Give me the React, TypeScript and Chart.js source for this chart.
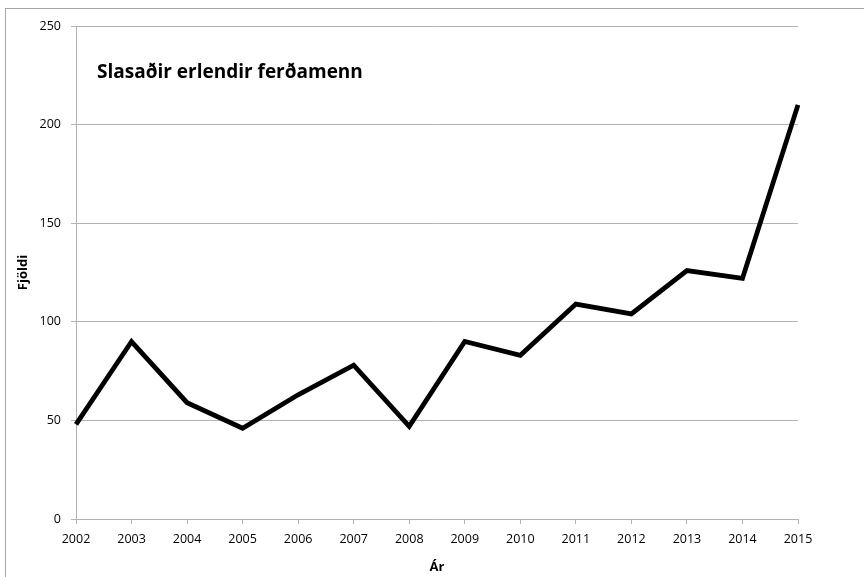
import React, { useEffect, useRef } from "react";
import { Chart, registerables } from "chart.js";

Chart.register(...registerables);

const years = ["2002", "2003", "2004", "2005", "2006", "2007", "2008", "2009", "2010", "2011", "2012", "2013", "2014", "2015"];
const injured = [48, 90, 59, 46, 63, 78, 47, 90, 83, 109, 104, 126, 122, 210];
const chartTitle = "Slasaðir erlendir ferðamenn";
const yTitle = "Fjöldi";
const xTitle = "Ár";

const FONT = "'Open Sans', sans-serif";
const GRID = "#b3b3b3";

const innerTitle = {
  id: "innerTitle",
  afterDraw(chart: any) {
    const { ctx, chartArea } = chart;
    ctx.save();
    ctx.font = `bold 19px ${FONT}`;
    ctx.fillStyle = "#000";
    ctx.textBaseline = "alphabetic";
    ctx.textAlign = "left";
    ctx.fillText(chartTitle, chartArea.left + 21, chartArea.top + 52);
    ctx.restore();
  },
};

export default function App() {
  const ref = useRef<HTMLCanvasElement>(null);
  useEffect(() => {
    if (!ref.current) return;
    const chart = new Chart(ref.current, {
      type: "line",
      data: {
        labels: years,
        datasets: [
          {
            data: injured,
            borderColor: "#000",
            borderWidth: 4.8,
            pointRadius: 0,
            tension: 0,
            fill: false,
          },
        ],
      },
      plugins: [innerTitle],
      options: {
        animation: false,
        responsive: false,
        maintainAspectRatio: false,
        layout: { padding: { left: 0, right: 66, top: 26, bottom: 0 } },
        plugins: { legend: { display: false }, tooltip: { enabled: false }, title: { display: false } },
        scales: {
          x: {
            offset: false,
            grid: { display: true, drawOnChartArea: false, drawTicks: true, tickLength: 5, color: GRID },
            border: { display: true, color: GRID, width: 1 },
            ticks: { color: "#000", font: { family: FONT, size: 12.5 }, padding: 8, maxRotation: 0, autoSkip: false },
            title: { display: true, text: xTitle, color: "#000", font: { family: FONT, size: 13, weight: "bold" }, padding: { top: 0, bottom: 2 } },
            afterFit(scale: any) { scale.height = 58; },
          },
          y: {
            min: 0,
            max: 250,
            ticks: { stepSize: 50, color: "#000", font: { family: FONT, size: 12.5 }, padding: 10 },
            grid: { color: GRID, tickLength: 5, drawTicks: true },
            border: { display: true, color: GRID, width: 1 },
            title: { display: true, text: yTitle, color: "#000", font: { family: FONT, size: 13, weight: "bold" }, padding: { top: 15, bottom: 0 } },
            afterFit(scale: any) { scale.width = 76; },
          },
        },
      },
    });
    return () => chart.destroy();
  }, []);
  return (
    <div style={{ position: "fixed", left: 0, top: 0, width: 864, height: 577, background: "#fff", overflow: "hidden" }}>
      <div style={{ position: "absolute", left: 5, top: 8, width: 900, height: 600, border: "1px solid #a6a6a6" }} />
      <canvas ref={ref} width={864} height={577} style={{ position: "absolute", left: 0, top: 0, width: 864, height: 577 }} />
    </div>
  );
}
